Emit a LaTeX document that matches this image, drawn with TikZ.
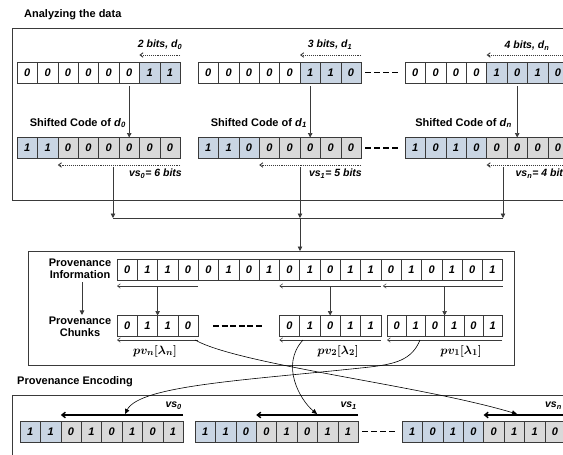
\documentclass[tikz,border=0pt]{standalone}
\usepackage{fontspec}
\setmainfont{Liberation Sans}
\usetikzlibrary{arrows.meta}
\definecolor{cw}{HTML}{FFFFFF}
\definecolor{cb}{HTML}{C9D5E3}
\definecolor{cg}{HTML}{D9D9D9}
\definecolor{ln}{HTML}{3A3A3A}
\newcommand\bitrow[5]{%
  \foreach \dg/\cc [count=\i] in {#5}{%
    \node[bitcell, fill=\cc, minimum width=#4] (#1-\i) at ({#2+(\i-0.5)*#4}, #3) {\dg};
  }}
\tikzset{
  bitcell/.style={draw=ln, line width=0.6pt, inner sep=0pt, outer sep=0pt, minimum height=21pt,
    font=\fontsize{11}{11}\selectfont\bfseries\itshape},
  lbl/.style={font=\fontsize{11}{12}\selectfont\bfseries, inner sep=0pt},
  ilbl/.style={font=\fontsize{10.5}{11}\selectfont\bfseries\itshape, inner sep=0pt},
  pvlbl/.style={font=\fontsize{12.5}{12.5}\selectfont\boldmath, inner sep=0pt},
  boxframe/.style={draw=ln, line width=0.8pt, inner sep=0pt, anchor=north west},
  dotarrow/.style={draw=ln, densely dotted, line width=0.9pt, -{Straight Barb[length=3pt,width=4.5pt]}},
  thinarrow/.style={draw=ln, line width=0.5pt, -{Straight Barb[length=3pt,width=4.5pt]}},
  thickarrow/.style={draw=black, line width=1.4pt, -{Straight Barb[length=3.5pt,width=5.5pt]}},
  vdown/.style={draw=ln, line width=0.7pt, -{Triangle[length=4.5pt,width=4.5pt]}},
  curvearrow/.style={draw=black, line width=0.6pt, -{Triangle[length=5pt,width=4.5pt]}},
  dashgap/.style={draw=black, line width=1.4pt, dash pattern=on 6pt off 3pt},
  plain/.style={draw=ln, line width=0.7pt}
}
\begin{document}
\begin{tikzpicture}[x=1pt,y=-1pt]
\useasboundingbox (0,0) rectangle (563,455);
\fill[white] (0,0) rectangle (563,455);
\clip (0,0) rectangle (563,455);

% ---------------- Analyzing the data ----------------
\node[lbl, anchor=west] (t1) at (24,15) {Analyzing the data};
\node[boxframe, minimum width=600pt, minimum height=172pt] (topbox) at (12,28) {};

\bitrow{ra}{17}{72.5}{20.4}{0/cw,0/cw,0/cw,0/cw,0/cw,0/cw,1/cb,1/cb}
\bitrow{rb}{198}{72.5}{20.4}{0/cw,0/cw,0/cw,0/cw,0/cw,1/cb,1/cb,0/cb}
\bitrow{rc}{405}{72.5}{20.4}{0/cw,0/cw,0/cw,0/cw,1/cb,0/cb,1/cb,0/cb}
\bitrow{sa}{17}{148}{20.4}{1/cb,1/cb,0/cg,0/cg,0/cg,0/cg,0/cg,0/cg}
\bitrow{sb}{198}{148}{20.4}{1/cb,1/cb,0/cb,0/cg,0/cg,0/cg,0/cg,0/cg}
\bitrow{sc}{405}{148}{20.4}{1/cb,0/cb,1/cb,0/cb,0/cg,0/cg,0/cg,0/cg}

\draw[dashgap] ([xshift=4pt]rb-8.east) -- ([xshift=-6pt]rc-1.west);
\draw[dashgap] ([xshift=4pt]sb-8.east) -- ([xshift=-6pt]sc-1.west);

% bit-count labels and arrows
\coordinate (ba0) at (ra-8.north east |- 0,55);
\coordinate (bb0) at (rb-8.north east |- 0,55);
\coordinate (bc0) at (rc-8.north east |- 0,55);
\draw[dotarrow] (ba0) -- (ra-7.north west |- ba0);
\draw[dotarrow] (bb0) -- (rb-6.north west |- bb0);
\draw[dotarrow] (bc0) -- (rc-5.north west |- bc0);
\node[ilbl] (la) at (160,45) {2 bits, d\textsubscript{0}};
\node[ilbl] (lb) at (330,45) {3 bits, d\textsubscript{1}};
\node[ilbl] (lc) at (527,46) {4 bits, d\textsubscript{n}};

% shifted code arrows and labels
\draw[vdown, shorten <=3pt] (ra-6.south) -- (sa-6.north);
\draw[vdown, shorten <=3pt] (rb-6.south) -- (sb-6.north);
\draw[vdown, shorten <=3pt] (rc-6.south) -- (sc-6.north);
\node[lbl, anchor=east] (sca) at (126,123) {Shifted Code of \textit{d}\textsubscript{\textit{0}}};
\node[lbl, anchor=east] (scb) at (307,123) {Shifted Code of \textit{d}\textsubscript{\textit{1}}};
\node[lbl, anchor=east] (scc) at (512,123) {Shifted Code of \textit{d}\textsubscript{\textit{n}}};

% vs arrows
\coordinate (va0) at (sa-8.south east |- 0,165);
\coordinate (vb0) at (sb-8.south east |- 0,165);
\coordinate (vc0) at (sc-8.south east |- 0,165);
\draw[dotarrow] (va0) -- (sa-3.south west |- va0);
\draw[dotarrow] (vb0) -- (sb-4.south west |- vb0);
\draw[dotarrow] (vc0) -- (sc-5.south west |- vc0);
\node[ilbl, anchor=east] (vsa) at (182,174) {vs\textsubscript{0}= 6 bits};
\node[ilbl, anchor=east] (vsb) at (362,174) {vs\textsubscript{1}= 5 bits};
\node[ilbl, anchor=east] (vsc) at (569,174) {vs\textsubscript{n}= 4 bits};

% joining connectors
\coordinate (s0) at (113,167);
\coordinate (s1) at (300,167);
\coordinate (s2) at (503,167);
\coordinate (j0) at (113,218);
\coordinate (j1) at (300,218);
\coordinate (j2) at (503,218);
\draw[vdown] (s0) -- (j0);
\draw[vdown] (s1) -- (j1);
\draw[vdown] (s2) -- (j2);
\draw[plain] (j0) -- (j2);

% ---------------- Provenance box ----------------
\node[boxframe, minimum width=486pt, minimum height=114pt] (prov) at (28,251) {};
\draw[vdown] (j1) -- (j1 |- prov.north);

\node[lbl, align=center] (pinfo) at (80,269) {Provenance\\Information};
\node[lbl, align=center] (pchunk) at (80,327) {Provenance\\Chunks};
\draw[vdown, shorten <=3pt, shorten >=2pt] (pinfo.south -| 82,0) -- (pchunk.north -| 82,0);

\bitrow{in}{117}{269.5}{20.3}{0/cw,1/cw,1/cw,0/cw,0/cw,1/cw,0/cw,1/cw,0/cw,1/cw,0/cw,1/cw,1/cw,0/cw,1/cw,0/cw,1/cw,0/cw,1/cw}
\bitrow{pn}{117}{326}{20.3}{0/cw,1/cw,1/cw,0/cw}
\bitrow{pb}{279.4}{326}{20.3}{0/cw,1/cw,0/cw,1/cw,1/cw}
\bitrow{pa}{387}{326}{19.2}{0/cw,1/cw,0/cw,1/cw,0/cw,1/cw}

\draw[draw=black, line width=1.4pt, dash pattern=on 6pt off 2.6pt] (213,326) -- (264,326);

\coordinate (ia) at (in-4.south east |- 0,286);
\coordinate (ib) at (in-13.south east |- 0,286);
\coordinate (ic) at (in-19.south east |- 0,286);
\draw[thinarrow] (ia) -- (in-1.south west |- ia);
\draw[thinarrow] (ib) -- (in-9.south west |- ib);
\draw[thinarrow] (ic) -- ([xshift=2pt]in-14.south west |- ic);

\draw[vdown, shorten <=7pt] (pn-2.north east |- in-1.south) -- (pn-2.north east);
\draw[vdown, shorten <=7pt] (pb-3.north |- in-1.south) -- (pb-3.north);
\draw[vdown, shorten <=7pt] (pa-3.north east |- in-1.south) -- (pa-3.north east);

\coordinate (ca) at (pn-4.south east |- 0,340);
\coordinate (cb) at (pb-5.south east |- 0,340);
\coordinate (cc) at (pa-6.south east |- 0,340);
\draw[thinarrow] (ca) -- (pn-1.south west |- ca);
\draw[thinarrow] (cb) -- (pb-1.south west |- cb);
\draw[thinarrow] (cc) -- (pa-1.south west |- cc);

\node[pvlbl] (pvn) at (155,351) {$pv_n[\lambda_n]$};
\node[pvlbl] (pv2) at (338,351) {$pv_2[\lambda_2]$};
\node[pvlbl] (pv1) at (461,351) {$pv_1[\lambda_1]$};

% ---------------- Provenance Encoding ----------------
\node[lbl, anchor=west] (t2) at (17,382) {Provenance Encoding};
\node[boxframe, minimum width=600pt, minimum height=100pt] (encbox) at (12,395) {};

\bitrow{ea}{20}{431.5}{20.4}{1/cb,1/cb,0/cg,1/cg,0/cg,1/cg,0/cg,1/cg}
\bitrow{eb}{195}{431.5}{20.4}{1/cb,1/cb,0/cb,0/cg,1/cg,0/cg,1/cg,1/cg}
\bitrow{ec}{402}{431.5}{20.4}{1/cb,0/cb,1/cb,0/cb,0/cg,1/cg,1/cg,0/cg}
\draw[dashgap] ([xshift=4pt]eb-8.east) -- ([xshift=-6pt]ec-1.west);

\coordinate (ea0) at (ea-8.north east |- 0,415);
\coordinate (eb0) at (eb-8.north east |- 0,415);
\coordinate (ec0) at (ec-8.north east |- 0,415);
\draw[thickarrow] (ea0) -- (ea-3.north west |- ea0);
\draw[thickarrow] (eb0) -- (eb-4.north west |- eb0);
\draw[thickarrow] (ec0) -- (ec-5.north west |- ec0);
\node[ilbl, anchor=east] (vea) at (182,406) {vs\textsubscript{0}};
\node[ilbl, anchor=east] (veb) at (357,406) {vs\textsubscript{1}};
\node[ilbl, anchor=east] (vec) at (562,406) {vs\textsubscript{n}};

% ---------------- curved mapping arrows ----------------
\coordinate (c1s) at (195,340);
\coordinate (c1e) at (517,414);
\coordinate (c2s) at (303,340);
\coordinate (c2e) at (317,414);
\coordinate (c3s) at (420,340);
\coordinate (c3m) at (370,367);
\coordinate (c3e) at (125,414);
\draw[curvearrow] (c1s) .. controls (240,365) and (420,385) .. (c1e);
\draw[curvearrow] (c2s) .. controls (280,365) and (300,400) .. (c2e);
\draw[curvearrow] (c3s) .. controls (412,360) and (395,364) .. (c3m)
   .. controls (250,380) and (140,385) .. (c3e);
\end{tikzpicture}
\end{document}
